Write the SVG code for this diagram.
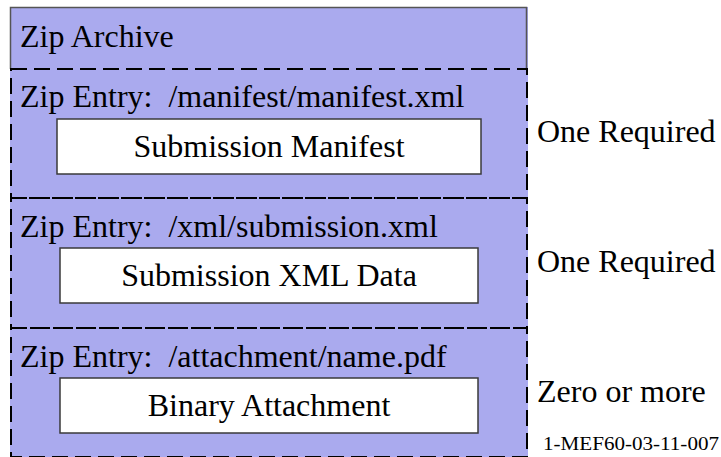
<svg xmlns="http://www.w3.org/2000/svg" width="721" height="457" viewBox="0 0 721 457">
<style>
text{font-family:"Liberation Serif","Times New Roman",serif;fill:#000;white-space:pre}
.big{font-size:32px}
.small{font-size:19px}
.sect{fill:none;stroke:#000;stroke-width:2;stroke-dasharray:16 7}
.box{fill:#fff;stroke:#3a3a3a;stroke-width:1.5}
</style>
<rect width="721" height="457" fill="#fff"/>
<g id="zip-archive">
<rect x="10" y="7" width="518" height="460" fill="#aaaaee"/>
<path d="M10.5 69 V7.5 H526.5 V69" fill="none" stroke="#555" stroke-width="1.5"/>
<text class="big" x="20" y="47">Zip Archive</text>
</g>
<g id="entry-manifest">
<rect class="sect" x="11" y="69" width="516" height="129"/>
<text class="big" x="20" y="107" xml:space="preserve">Zip Entry:  /manifest/manifest.xml</text>
</g>
<g id="submission-manifest">
<rect class="box" x="57" y="119" width="424" height="55"/>
<text class="big" x="269" y="157" text-anchor="middle">Submission Manifest</text>
</g>
<g id="entry-xml">
<rect class="sect" x="11" y="198" width="516" height="130"/>
<text class="big" x="20" y="237" xml:space="preserve">Zip Entry:  /xml/submission.xml</text>
</g>
<g id="submission-xml">
<rect class="box" x="60" y="248" width="418" height="55"/>
<text class="big" x="269" y="286" text-anchor="middle">Submission XML Data</text>
</g>
<g id="entry-attachment">
<rect class="sect" x="11" y="328" width="516" height="129"/>
<text class="big" x="20" y="367" xml:space="preserve">Zip Entry:  /attachment/name.pdf</text>
</g>
<g id="binary-attachment">
<rect class="box" x="60" y="378" width="418" height="55"/>
<text class="big" x="269" y="416" text-anchor="middle">Binary Attachment</text>
</g>
<g id="labels">
<text class="big" x="537" y="142">One Required</text>
<text class="big" x="537" y="272">One Required</text>
<text class="big" x="537" y="402">Zero or more</text>
<text class="small" x="543" y="450" textLength="176" lengthAdjust="spacingAndGlyphs">1-MEF60-03-11-007</text>
</g>
</svg>
